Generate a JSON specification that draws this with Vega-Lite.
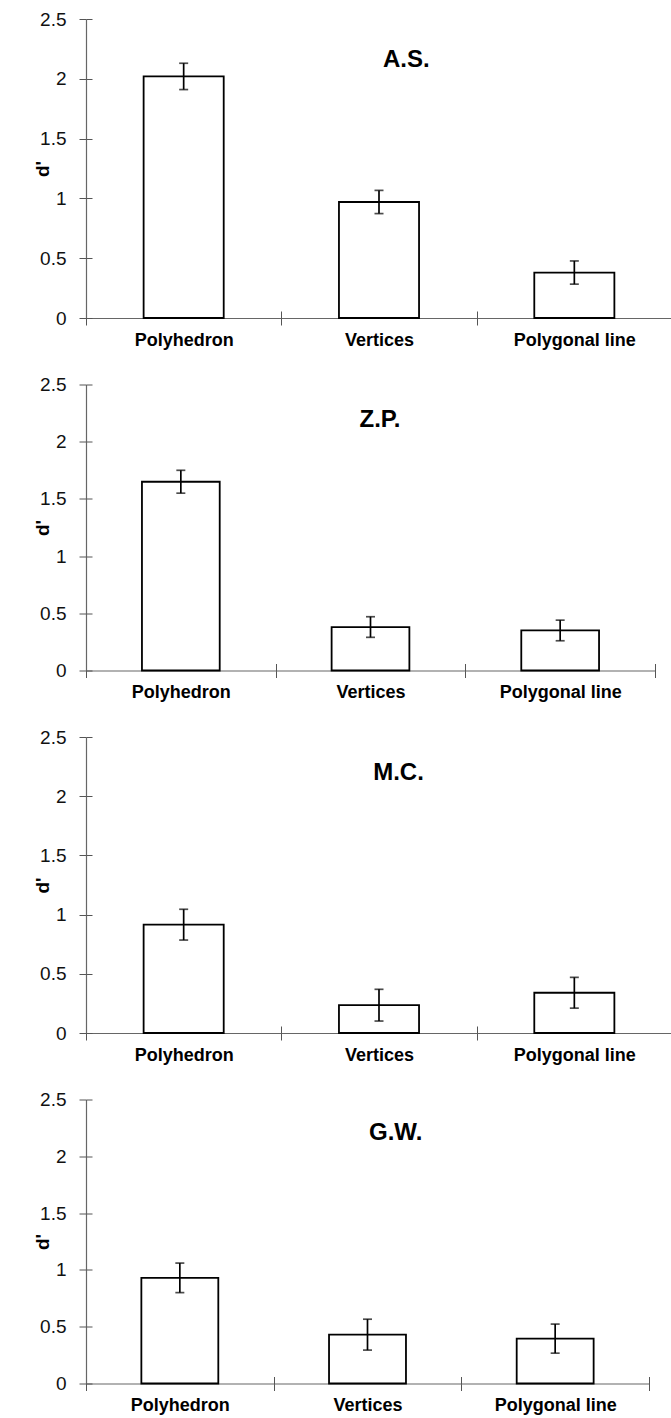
{
  "$schema": "https://vega.github.io/schema/vega-lite/v6.json",
  "padding": {"left": 33, "top": 10, "right": 0, "bottom": 0},
  "background": "white",
  "datasets": {
    "dprime": [
      {"subject": "A.S.", "condition": "Polyhedron", "d": 2.02, "err": 0.11},
      {"subject": "A.S.", "condition": "Vertices", "d": 0.97, "err": 0.097},
      {"subject": "A.S.", "condition": "Polygonal line", "d": 0.38, "err": 0.097},
      {"subject": "Z.P.", "condition": "Polyhedron", "d": 1.65, "err": 0.1},
      {"subject": "Z.P.", "condition": "Vertices", "d": 0.38, "err": 0.09},
      {"subject": "Z.P.", "condition": "Polygonal line", "d": 0.35, "err": 0.09},
      {"subject": "M.C.", "condition": "Polyhedron", "d": 0.915, "err": 0.13},
      {"subject": "M.C.", "condition": "Vertices", "d": 0.235, "err": 0.134},
      {"subject": "M.C.", "condition": "Polygonal line", "d": 0.34, "err": 0.13},
      {"subject": "G.W.", "condition": "Polyhedron", "d": 0.93, "err": 0.13},
      {"subject": "G.W.", "condition": "Vertices", "d": 0.43, "err": 0.136},
      {"subject": "G.W.", "condition": "Polygonal line", "d": 0.395, "err": 0.128}
    ]
  },
  "data": {"name": "dprime"},
  "spacing": 26.5,
  "config": {
    "view": {"stroke": null},
    "font": "Liberation Sans",
    "axis": {
      "labelFont": "Liberation Sans",
      "titleFont": "Liberation Sans",
      "labelColor": "#111",
      "domainColor": "#666",
      "tickColor": "#555",
      "grid": false
    }
  },
  "vconcat": [
    {
      "width": 586, "height": 299,
      "transform": [{"filter": "datum.subject === 'A.S.'"}],
      "layer": [
        {
          "mark": {"type": "bar", "fill": "white", "stroke": "black", "strokeWidth": 1.8, "width": {"band": 0.41}},
          "encoding": {
            "x": {"field": "condition", "type": "nominal", "sort": ["Polyhedron", "Vertices", "Polygonal line"],
                  "scale": {"paddingInner": 0, "paddingOuter": 0},
                  "axis": {"title": null, "labelAngle": 0, "labelFontSize": 18, "labelFontWeight": "bold", "labelColor": "black", "tickBand": "extent", "tickSize": 7, "labelPadding": 6, "domainWidth": 1.2}},
            "y": {"field": "d", "type": "quantitative", "scale": {"domain": [0, 2.5], "nice": false},
                  "axis": {"title": "d'", "titleFontSize": 19, "titleFontWeight": "bold", "titleColor": "black", "titleX": -38, "titleBaseline": "alphabetic", "values": [0, 0.5, 1, 1.5, 2, 2.5], "format": "~g", "labelFontSize": 19, "tickSize": 7, "labelPadding": 13, "domainWidth": 1.2}}
          }
        },
        {
          "mark": {"type": "errorbar", "ticks": true, "size": 9, "thickness": 1.7, "color": "black"},
          "encoding": {
            "x": {"field": "condition", "type": "nominal", "sort": ["Polyhedron", "Vertices", "Polygonal line"], "axis": null},
            "y": {"field": "d", "type": "quantitative", "axis": null},
            "yError": {"field": "err"}
          }
        },
        {
          "transform": [{"filter": "datum.condition === 'Vertices'"}],
          "mark": {"type": "text", "fontSize": 24, "fontWeight": "bold", "baseline": "alphabetic", "align": "center", "color": "black"},
          "encoding": {
            "x": {"field": "condition", "type": "nominal", "sort": ["Polyhedron", "Vertices", "Polygonal line"], "bandPosition": 0.64,
                  "axis": {"title": null, "labels": false, "domain": false, "tickBand": "extent", "tickSize": -7, "orient": "bottom"}},
            "y": {"datum": 2.1, "type": "quantitative",
                  "axis": {"title": null, "labels": false, "domain": false, "values": [0, 0.5, 1, 1.5, 2, 2.5], "tickSize": -6, "orient": "left"}},
            "text": {"field": "subject"}
          }
        }
      ],
      "resolve": {"axis": {"x": "independent", "y": "independent"}}
    },
    {
      "width": 569, "height": 286,
      "transform": [{"filter": "datum.subject === 'Z.P.'"}],
      "layer": [
        {
          "mark": {"type": "bar", "fill": "white", "stroke": "black", "strokeWidth": 1.8, "width": {"band": 0.41}},
          "encoding": {
            "x": {"field": "condition", "type": "nominal", "sort": ["Polyhedron", "Vertices", "Polygonal line"],
                  "scale": {"paddingInner": 0, "paddingOuter": 0},
                  "axis": {"title": null, "labelAngle": 0, "labelFontSize": 18, "labelFontWeight": "bold", "labelColor": "black", "tickBand": "extent", "tickSize": 7, "labelPadding": 6, "domainWidth": 1.2}},
            "y": {"field": "d", "type": "quantitative", "scale": {"domain": [0, 2.5], "nice": false},
                  "axis": {"title": "d'", "titleFontSize": 19, "titleFontWeight": "bold", "titleColor": "black", "titleX": -38, "titleBaseline": "alphabetic", "values": [0, 0.5, 1, 1.5, 2, 2.5], "format": "~g", "labelFontSize": 19, "tickSize": 7, "labelPadding": 13, "domainWidth": 1.2}}
          }
        },
        {
          "mark": {"type": "errorbar", "ticks": true, "size": 9, "thickness": 1.7, "color": "black"},
          "encoding": {
            "x": {"field": "condition", "type": "nominal", "sort": ["Polyhedron", "Vertices", "Polygonal line"], "axis": null},
            "y": {"field": "d", "type": "quantitative", "axis": null},
            "yError": {"field": "err"}
          }
        },
        {
          "transform": [{"filter": "datum.condition === 'Vertices'"}],
          "mark": {"type": "text", "fontSize": 24, "fontWeight": "bold", "baseline": "alphabetic", "align": "center", "color": "black"},
          "encoding": {
            "x": {"field": "condition", "type": "nominal", "sort": ["Polyhedron", "Vertices", "Polygonal line"], "bandPosition": 0.55,
                  "axis": {"title": null, "labels": false, "domain": false, "tickBand": "extent", "tickSize": -7, "orient": "bottom"}},
            "y": {"datum": 2.13, "type": "quantitative",
                  "axis": {"title": null, "labels": false, "domain": false, "values": [0, 0.5, 1, 1.5, 2, 2.5], "tickSize": -6, "orient": "left"}},
            "text": {"field": "subject"}
          }
        }
      ],
      "resolve": {"axis": {"x": "independent", "y": "independent"}}
    },
    {
      "width": 586, "height": 296,
      "transform": [{"filter": "datum.subject === 'M.C.'"}],
      "layer": [
        {
          "mark": {"type": "bar", "fill": "white", "stroke": "black", "strokeWidth": 1.8, "width": {"band": 0.41}},
          "encoding": {
            "x": {"field": "condition", "type": "nominal", "sort": ["Polyhedron", "Vertices", "Polygonal line"],
                  "scale": {"paddingInner": 0, "paddingOuter": 0},
                  "axis": {"title": null, "labelAngle": 0, "labelFontSize": 18, "labelFontWeight": "bold", "labelColor": "black", "tickBand": "extent", "tickSize": 7, "labelPadding": 6, "domainWidth": 1.2}},
            "y": {"field": "d", "type": "quantitative", "scale": {"domain": [0, 2.5], "nice": false},
                  "axis": {"title": "d'", "titleFontSize": 19, "titleFontWeight": "bold", "titleColor": "black", "titleX": -38, "titleBaseline": "alphabetic", "values": [0, 0.5, 1, 1.5, 2, 2.5], "format": "~g", "labelFontSize": 19, "tickSize": 7, "labelPadding": 13, "domainWidth": 1.2}}
          }
        },
        {
          "mark": {"type": "errorbar", "ticks": true, "size": 9, "thickness": 1.7, "color": "black"},
          "encoding": {
            "x": {"field": "condition", "type": "nominal", "sort": ["Polyhedron", "Vertices", "Polygonal line"], "axis": null},
            "y": {"field": "d", "type": "quantitative", "axis": null},
            "yError": {"field": "err"}
          }
        },
        {
          "transform": [{"filter": "datum.condition === 'Vertices'"}],
          "mark": {"type": "text", "fontSize": 24, "fontWeight": "bold", "baseline": "alphabetic", "align": "center", "color": "black"},
          "encoding": {
            "x": {"field": "condition", "type": "nominal", "sort": ["Polyhedron", "Vertices", "Polygonal line"], "bandPosition": 0.6,
                  "axis": {"title": null, "labels": false, "domain": false, "tickBand": "extent", "tickSize": -7, "orient": "bottom"}},
            "y": {"datum": 2.14, "type": "quantitative",
                  "axis": {"title": null, "labels": false, "domain": false, "values": [0, 0.5, 1, 1.5, 2, 2.5], "tickSize": -6, "orient": "left"}},
            "text": {"field": "subject"}
          }
        }
      ],
      "resolve": {"axis": {"x": "independent", "y": "independent"}}
    },
    {
      "width": 563, "height": 284,
      "transform": [{"filter": "datum.subject === 'G.W.'"}],
      "layer": [
        {
          "mark": {"type": "bar", "fill": "white", "stroke": "black", "strokeWidth": 1.8, "width": {"band": 0.41}},
          "encoding": {
            "x": {"field": "condition", "type": "nominal", "sort": ["Polyhedron", "Vertices", "Polygonal line"],
                  "scale": {"paddingInner": 0, "paddingOuter": 0},
                  "axis": {"title": null, "labelAngle": 0, "labelFontSize": 18, "labelFontWeight": "bold", "labelColor": "black", "tickBand": "extent", "tickSize": 7, "labelPadding": 6, "domainWidth": 1.2}},
            "y": {"field": "d", "type": "quantitative", "scale": {"domain": [0, 2.5], "nice": false},
                  "axis": {"title": "d'", "titleFontSize": 19, "titleFontWeight": "bold", "titleColor": "black", "titleX": -38, "titleBaseline": "alphabetic", "values": [0, 0.5, 1, 1.5, 2, 2.5], "format": "~g", "labelFontSize": 19, "tickSize": 7, "labelPadding": 13, "domainWidth": 1.2}}
          }
        },
        {
          "mark": {"type": "errorbar", "ticks": true, "size": 9, "thickness": 1.7, "color": "black"},
          "encoding": {
            "x": {"field": "condition", "type": "nominal", "sort": ["Polyhedron", "Vertices", "Polygonal line"], "axis": null},
            "y": {"field": "d", "type": "quantitative", "axis": null},
            "yError": {"field": "err"}
          }
        },
        {
          "transform": [{"filter": "datum.condition === 'Vertices'"}],
          "mark": {"type": "text", "fontSize": 24, "fontWeight": "bold", "baseline": "alphabetic", "align": "center", "color": "black"},
          "encoding": {
            "x": {"field": "condition", "type": "nominal", "sort": ["Polyhedron", "Vertices", "Polygonal line"], "bandPosition": 0.65,
                  "axis": {"title": null, "labels": false, "domain": false, "tickBand": "extent", "tickSize": -7, "orient": "bottom"}},
            "y": {"datum": 2.14, "type": "quantitative",
                  "axis": {"title": null, "labels": false, "domain": false, "values": [0, 0.5, 1, 1.5, 2, 2.5], "tickSize": -6, "orient": "left"}},
            "text": {"field": "subject"}
          }
        }
      ],
      "resolve": {"axis": {"x": "independent", "y": "independent"}}
    }
  ]
}
